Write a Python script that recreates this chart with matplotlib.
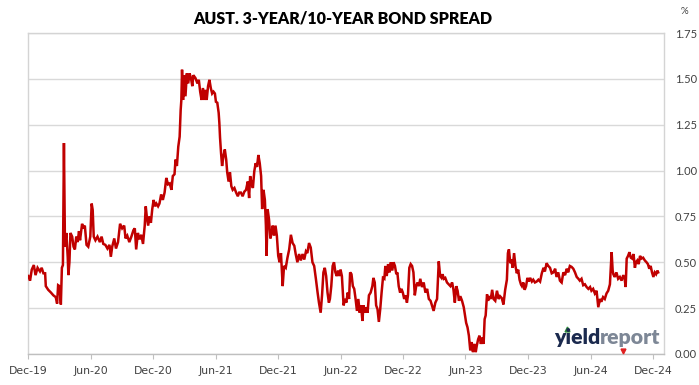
import matplotlib
matplotlib.use("Agg")
import matplotlib.pyplot as plt
import pandas as pd
from matplotlib.lines import Line2D

# ---------------- data ----------------
start_date = "2019-12-01"
days = [1, 6, 11, 17, 22, 28, 35, 40, 45, 50, 52, 59, 67, 74, 81, 85, 88, 92, 96, 99,
        102, 105, 108, 112, 116, 118, 121, 124, 129, 133, 137, 141, 145, 149, 152, 158, 162, 166, 171, 176,
        182, 186, 189, 192, 197, 203, 210, 215, 220, 226, 232, 238, 242, 246, 252, 257, 263, 269, 275, 281,
        285, 290, 296, 302, 308, 312,
        316, 321, 326, 331, 336, 341, 344, 347, 351, 355, 359, 363, 367, 371, 375, 380, 384, 389, 394, 399,
        404, 409, 414, 419, 423, 428, 431, 435, 439, 443, 446, 448, 450, 453, 456, 460, 464, 468, 472, 476,
        480, 483, 489, 495, 499, 503, 507, 511, 515, 518, 522, 526, 530, 534, 538, 542, 546, 549, 553, 557,
        559, 561, 564, 567, 571, 575, 579, 582, 586, 590, 594, 598, 603, 608, 613, 617,
        622, 627, 632, 637, 642, 646, 649, 653, 657, 661, 665, 669, 673, 677, 681, 684, 688, 692, 695, 697,
        700, 704, 708, 712, 715, 719, 723, 727, 731, 735, 739, 744, 748, 753, 758, 763, 768, 773, 778, 782,
        787, 792, 797, 802, 807, 812, 816, 821, 826, 831, 836, 841, 846, 850, 855, 859, 863, 867, 871, 875,
        879, 882, 886, 890, 894, 898, 902, 906, 910, 913, 917, 921,
        922, 926, 930, 934, 938, 941, 945, 949, 953, 957, 961, 965, 969, 973, 977, 980, 984, 988, 992, 996,
        1001, 1006, 1009, 1013, 1017, 1021, 1025, 1029, 1033, 1037, 1041, 1044, 1048, 1052, 1056, 1060, 1064, 1068, 1072, 1076,
        1079, 1083, 1087, 1091, 1095, 1099, 1103, 1107, 1110, 1114, 1118, 1122, 1126, 1130, 1134, 1138, 1142, 1146, 1151, 1156,
        1161, 1166, 1171, 1176, 1180, 1185, 1190, 1195, 1200, 1204, 1208, 1211, 1215, 1219, 1224, 1229,
        1234, 1239, 1243, 1247, 1251, 1255, 1259, 1263, 1268, 1273, 1276, 1280, 1284, 1288, 1292, 1296, 1300, 1304, 1308, 1311,
        1315, 1319, 1323, 1327, 1331, 1334, 1337, 1341, 1344, 1348, 1352, 1356, 1360, 1365, 1370, 1375, 1379, 1384, 1389, 1394,
        1399, 1402, 1405, 1409, 1412, 1416, 1420, 1424, 1428, 1432, 1436, 1440, 1443, 1447, 1451, 1455, 1459, 1463, 1467, 1472,
        1476, 1481, 1486, 1491, 1496, 1501, 1506, 1510, 1515, 1520, 1525, 1530,
        1535, 1540, 1544, 1549, 1554, 1559, 1564, 1569, 1574, 1578, 1583, 1588, 1593, 1598, 1603, 1608, 1612, 1617, 1622, 1627,
        1632, 1637, 1642, 1646, 1651, 1656, 1661, 1666, 1671, 1675, 1680, 1685, 1690, 1695, 1700, 1705, 1708, 1710, 1714, 1719,
        1724, 1729, 1734, 1739, 1743, 1746, 1749, 1753, 1757, 1761, 1765, 1769, 1773, 1776, 1780, 1784, 1788, 1792, 1797, 1802,
        1807, 1811, 1815, 1819, 1823, 1827, 1831, 1835, 1839, 1841]

spread = [0.425, 0.40, 0.46, 0.485, 0.43, 0.47, 0.45, 0.47, 0.44, 0.44, 0.37, 0.35, 0.335, 0.32, 0.31, 0.275, 0.375, 0.37, 0.27, 0.47,
          0.485, 1.15, 0.585, 0.66, 0.53, 0.43, 0.50, 0.66, 0.64, 0.585, 0.57, 0.64, 0.61, 0.67, 0.62, 0.71, 0.685, 0.70, 0.595, 0.585,
          0.64, 0.82, 0.785, 0.64, 0.62, 0.64, 0.61, 0.64, 0.60, 0.595, 0.575, 0.595, 0.53, 0.585, 0.63, 0.575, 0.61, 0.71, 0.685, 0.70,
          0.63, 0.645, 0.61, 0.64, 0.675, 0.685,
          0.57, 0.66, 0.625, 0.65, 0.60, 0.70, 0.805, 0.75, 0.70, 0.75, 0.715, 0.79, 0.84, 0.805, 0.82, 0.805, 0.82, 0.87, 0.84, 0.88,
          0.96, 0.925, 0.93, 0.895, 0.97, 0.98, 1.06, 1.025, 1.13, 1.185, 1.33, 1.385, 1.55, 1.385, 1.52, 1.405, 1.53, 1.475, 1.53, 1.505,
          1.46, 1.52, 1.505, 1.475, 1.495, 1.43, 1.385, 1.45, 1.385, 1.44, 1.385, 1.46, 1.495, 1.45, 1.42, 1.43, 1.42, 1.375, 1.37, 1.315,
          1.26, 1.18, 1.095, 1.025, 1.08, 1.115, 1.06, 0.99, 0.94, 0.99, 0.915, 0.895, 0.905, 0.88, 0.86, 0.88,
          0.88, 0.86, 0.885, 0.895, 0.94, 0.85, 0.97, 0.93, 0.905, 0.995, 1.04, 1.02, 1.085, 1.04, 0.97, 0.79, 0.895, 0.84, 0.70, 0.535,
          0.79, 0.735, 0.63, 0.66, 0.70, 0.645, 0.70, 0.645, 0.535, 0.50, 0.55, 0.37, 0.48, 0.47, 0.525, 0.57, 0.65, 0.605, 0.59, 0.545,
          0.50, 0.545, 0.51, 0.545, 0.515, 0.56, 0.55, 0.605, 0.58, 0.50, 0.48, 0.41, 0.335, 0.28, 0.225, 0.32, 0.445, 0.47, 0.425, 0.335,
          0.28, 0.30, 0.37, 0.48, 0.50, 0.445, 0.425, 0.455, 0.425, 0.46, 0.425, 0.30,
          0.265, 0.30, 0.28, 0.335, 0.30, 0.445, 0.435, 0.37, 0.355, 0.30, 0.235, 0.30, 0.225, 0.265, 0.18, 0.265, 0.225, 0.255, 0.225, 0.32,
          0.335, 0.37, 0.415, 0.39, 0.265, 0.245, 0.175, 0.245, 0.335, 0.415, 0.41, 0.48, 0.425, 0.49, 0.445, 0.50, 0.455, 0.50, 0.48, 0.435,
          0.445, 0.37, 0.335, 0.355, 0.335, 0.30, 0.32, 0.28, 0.32, 0.47, 0.49, 0.48, 0.445, 0.32, 0.37, 0.39, 0.37, 0.41, 0.365, 0.39,
          0.335, 0.355, 0.30, 0.29, 0.265, 0.235, 0.28, 0.30, 0.505, 0.425, 0.415, 0.435, 0.41, 0.415, 0.39, 0.38,
          0.37, 0.39, 0.35, 0.28, 0.37, 0.345, 0.29, 0.315, 0.29, 0.255, 0.22, 0.17, 0.145, 0.10, 0.02, 0.065, 0.01, 0.055, 0.01, 0.045,
          0.08, 0.10, 0.055, 0.09, 0.055, 0.19, 0.21, 0.325, 0.29, 0.315, 0.30, 0.35, 0.30, 0.29, 0.345, 0.30, 0.315, 0.305, 0.27, 0.35,
          0.405, 0.55, 0.57, 0.495, 0.515, 0.47, 0.55, 0.48, 0.44, 0.46, 0.405, 0.38, 0.37, 0.39, 0.35, 0.37, 0.415, 0.395, 0.415, 0.395,
          0.405, 0.39, 0.395, 0.405, 0.395, 0.44, 0.47, 0.45, 0.495, 0.48, 0.47, 0.44,
          0.445, 0.465, 0.42, 0.445, 0.40, 0.39, 0.445, 0.43, 0.465, 0.445, 0.48, 0.475, 0.465, 0.445, 0.42, 0.41, 0.40, 0.41, 0.375, 0.38,
          0.365, 0.355, 0.365, 0.345, 0.355, 0.33, 0.345, 0.255, 0.30, 0.285, 0.31, 0.30, 0.33, 0.345, 0.38, 0.555, 0.455, 0.435, 0.42, 0.445,
          0.41, 0.42, 0.40, 0.43, 0.41, 0.365, 0.52, 0.535, 0.555, 0.525, 0.52, 0.545, 0.47, 0.50, 0.51, 0.49, 0.535, 0.52, 0.525, 0.51,
          0.50, 0.49, 0.465, 0.48, 0.445, 0.42, 0.445, 0.435, 0.455, 0.445]

tick_dates = ["2019-12-01", "2020-06-01", "2020-12-01", "2021-06-01", "2021-12-01", "2022-06-01",
              "2022-12-01", "2023-06-01", "2023-12-01", "2024-06-01", "2024-12-01"]
tick_labels = ["Dec-19", "Jun-20", "Dec-20", "Jun-21", "Dec-21", "Jun-22",
               "Dec-22", "Jun-23", "Dec-23", "Jun-24", "Dec-24"]
y_ticks = [0.00, 0.25, 0.50, 0.75, 1.00, 1.25, 1.50, 1.75]
title = "AUST. 3-YEAR/10-YEAR BOND SPREAD"

assert len(days) == len(spread), (len(days), len(spread))

# ---------------- figure ----------------
W, H = 699, 385
fig = plt.figure(figsize=(W / 100, H / 100), dpi=100)
fig.patch.set_facecolor("white")
L, R, T, B = 28, 664, 33, 354
ax = fig.add_axes([L / W, 1 - B / H, (R - L) / W, (B - T) / H])

dates = pd.Timestamp(start_date) + pd.to_timedelta(days, unit="D")
ax.plot(dates, spread, color="#c00000", lw=1.8, solid_joinstyle="miter", zorder=3)

ax.set_xlim(pd.Timestamp("2019-12-01"), pd.Timestamp("2025-01-01"))
ax.set_ylim(0, 1.75)

ax.set_xticks(pd.to_datetime(tick_dates))
ax.set_xticklabels(tick_labels, fontsize=7.8, color="#404040", family="DejaVu Sans")
ax.tick_params(axis="x", direction="out", length=3.5, width=0.8, color="#bfbfbf", pad=5)

ax.yaxis.tick_right()
ax.set_yticks(y_ticks)
ax.set_yticklabels([f"{v:.2f}" for v in y_ticks], fontsize=8, color="#404040", family="Lato")
ax.tick_params(axis="y", length=0, pad=8)

ax.grid(axis="y", color="#d9d9d9", lw=1.0, zorder=0)
ax.set_axisbelow(True)
for s in ["top", "right", "left"]:
    ax.spines[s].set_color("#d4d4d4")
    ax.spines[s].set_linewidth(1.0)
ax.spines["bottom"].set_color("#bfbfbf")
ax.spines["bottom"].set_linewidth(1.0)

fig.text(343 / W, 1 - 18 / H, title, ha="center", va="center", fontsize=11.5,
         fontweight="heavy", family="Lato", color="#000000")
fig.text(684 / W, 1 - 12 / H, "%", ha="center", va="center", fontsize=7, color="#404040", family="Lato")

# watermark
t1 = fig.text(554 / W, 1 - 344 / H, "yield", ha="left", va="baseline", fontsize=15.3,
              fontweight="heavy", family="Lato", color="#1b2a4e")
fig.canvas.draw()
bb = t1.get_window_extent(fig.canvas.get_renderer())
fig.text(bb.x1 / W, 1 - 344 / H, "report", ha="left", va="baseline", fontsize=15.3,
         fontweight="heavy", family="Lato", color="#7d8796")
fig.add_artist(Line2D([567 / W], [1 - 329 / H], marker="^", ms=3.5, color="#2e8b3a",
                      transform=fig.transFigure, ls="none"))
fig.add_artist(Line2D([623 / W], [1 - 351 / H], marker="v", ms=3.5, color="#e02020",
                      transform=fig.transFigure, ls="none"))

fig.savefig("out.png", dpi=100, facecolor="white")
